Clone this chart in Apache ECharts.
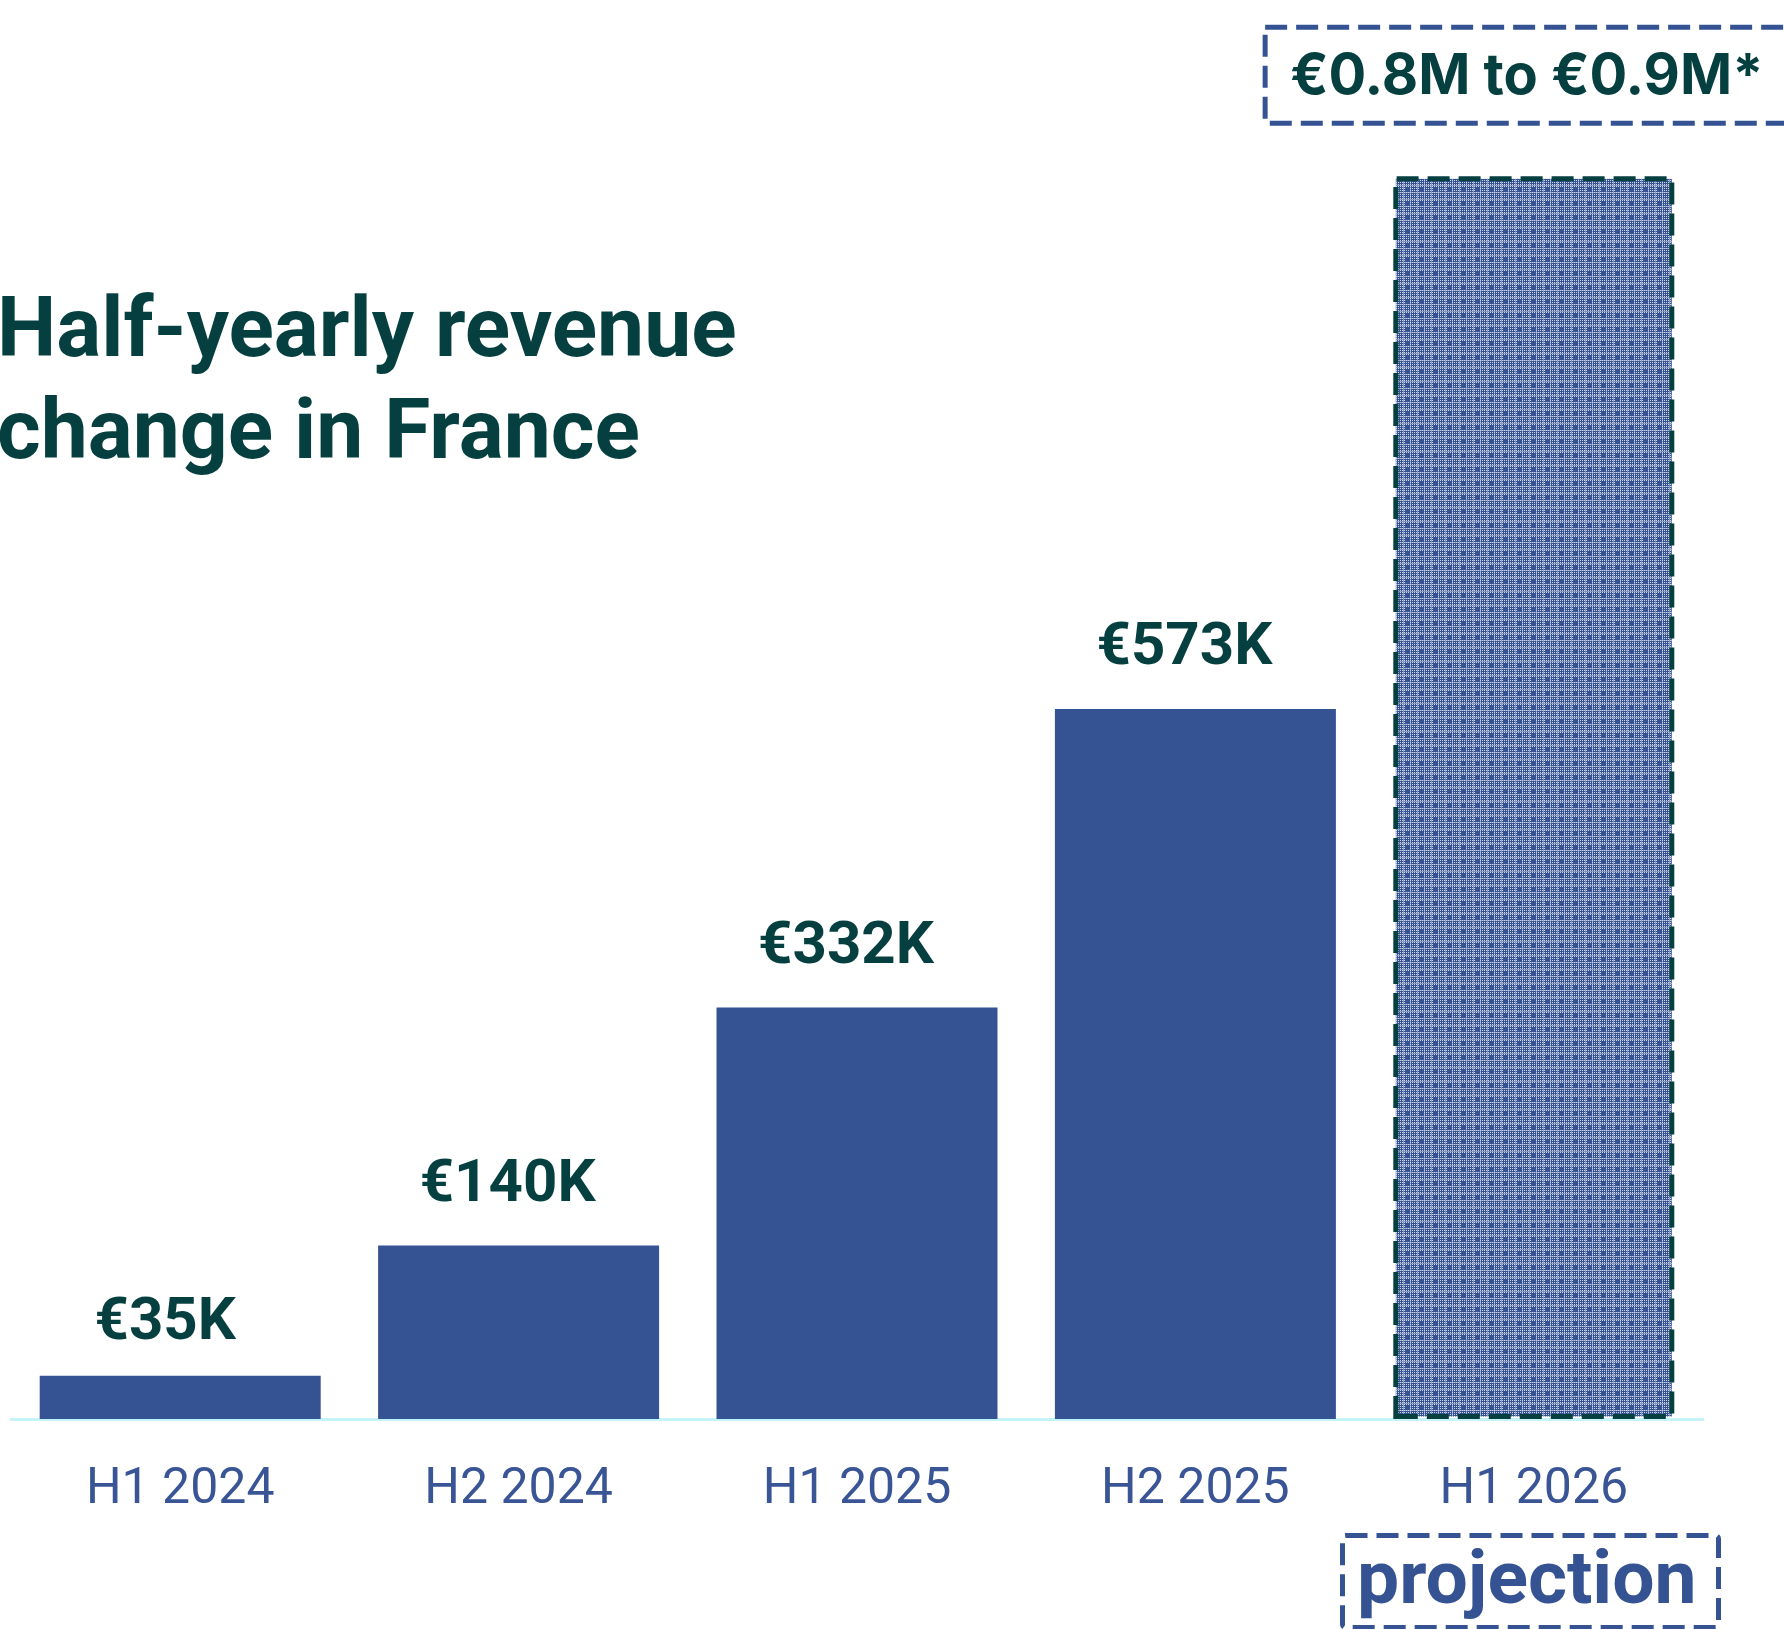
<!DOCTYPE html>
<html>
<head>
<meta charset="utf-8">
<title>Half-yearly revenue change in France</title>
<script src="https://cdn.jsdelivr.net/npm/echarts@6/dist/echarts.min.js"></script>
<style>
    html, body { margin: 0; padding: 0; background: #fff; }
    #revenue-bar { width: 1784px; height: 1629px; }
</style>
</head>
<body>
<div id="revenue-bar"></div>
<script>
// ------------------------------
// Data
// ------------------------------
var categories = ['H1 2024', 'H2 2024', 'H1 2025', 'H2 2025', 'H1 2026'];
var revenueK = [35, 140, 332, 573, 1003];
var valueLabels = ['€35K', '€140K', '€332K', '€573K', '€0.8M to €0.9M*'];
var projectedIndex = 4;

var teal = '#053f3f';
var blue = '#355393';

// hatched fill for the projected bar
function makePattern() {
    var c = document.createElement('canvas');
    c.width = 14;
    c.height = 14;
    var ctx = c.getContext('2d');
    ctx.fillStyle = blue;
    ctx.fillRect(0, 0, 14, 14);
    for (var y = 0; y < 14; y++) {
        for (var x = 0; x < 14; x++) {
            var a = 0;
            if (x % 2 === 0 && y % 2 === 0) a = 0.75;
            if (x === 3 || x === 10 || y === 3 || y === 10) a = Math.max(a, 0.4);
            if ((x >= 5 && x <= 8) && (y >= 5 && y <= 8)) a = 0;
            if (a > 0) {
                ctx.fillStyle = 'rgba(255,255,255,' + a + ')';
                ctx.fillRect(x, y, 1, 1);
            }
        }
    }
    return c;
}

var chart = echarts.init(document.getElementById('revenue-bar'));

var seriesData = revenueK.map(function (v, i) {
    if (i === 0) {
        return { value: v, label: { distance: 22, offset: [-15, 0] } };
    }
    if (i !== projectedIndex) {
        return { value: v };
    }
    return {
        value: v,
        itemStyle: {
            color: { image: makePattern(), repeat: 'repeat' },
            borderColor: teal,
            borderWidth: 5,
            borderType: [22, 9]
        },
        label: {
            offset: [-7, 0],
            distance: 53,
            fontSize: 56,
            lineHeight: 60,
            fontFamily: 'Inter',
            padding: [20, 25, 16, 25],
            borderColor: blue,
            borderWidth: 5,
            borderType: [22, 9]
        }
    };
});

var option = {
    animation: false,
    backgroundColor: '#ffffff',

    // Title
    title: {
        text: 'Half-yearly revenue\nchange in France',
        left: -8,
        top: 279,
        textStyle: {
            color: teal,
            fontFamily: 'Roboto',
            fontWeight: 'bold',
            fontSize: 84,
            lineHeight: 102
        }
    },

    grid: {
        left: 11,
        right: 81,
        top: 56,
        bottom: 210
    },

    xAxis: {
        type: 'category',
        data: categories,
        axisTick: { show: false },
        axisLine: { lineStyle: { color: '#c6f3f8', width: 3 } },
        axisLabel: {
            color: '#3a5595',
            fontFamily: 'Roboto',
            fontSize: 50,
            margin: 46
        }
    },

    yAxis: {
        type: 'value',
        min: 0,
        max: 1100,
        show: false,
        splitLine: { show: false }
    },

    series: [{
        type: 'bar',
        barWidth: 281,
        data: seriesData,
        itemStyle: { color: blue },
        label: {
            show: true,
            position: 'top',
            distance: 30,
            offset: [-11, 0],
            color: teal,
            fontFamily: 'Roboto',
            fontWeight: 'bold',
            fontSize: 60,
            formatter: function (p) {
                return valueLabels[p.dataIndex];
            }
        }
    }],

    // "projection" tag under the last category
    graphic: [{
        type: 'rect',
        left: 1340,
        top: 1533,
        shape: { width: 376, height: 92, r: 3 },
        style: {
            fill: 'none',
            stroke: blue,
            lineWidth: 5,
            lineDash: [22, 9]
        }
    }, {
        type: 'text',
        left: 1357,
        top: 1547,
        style: {
            text: 'projection',
            fill: blue,
            font: 'bold 75px Roboto'
        }
    }]
};

chart.setOption(option);

window.addEventListener('resize', function () {
    chart.resize();
});
</script>
</body>
</html>
